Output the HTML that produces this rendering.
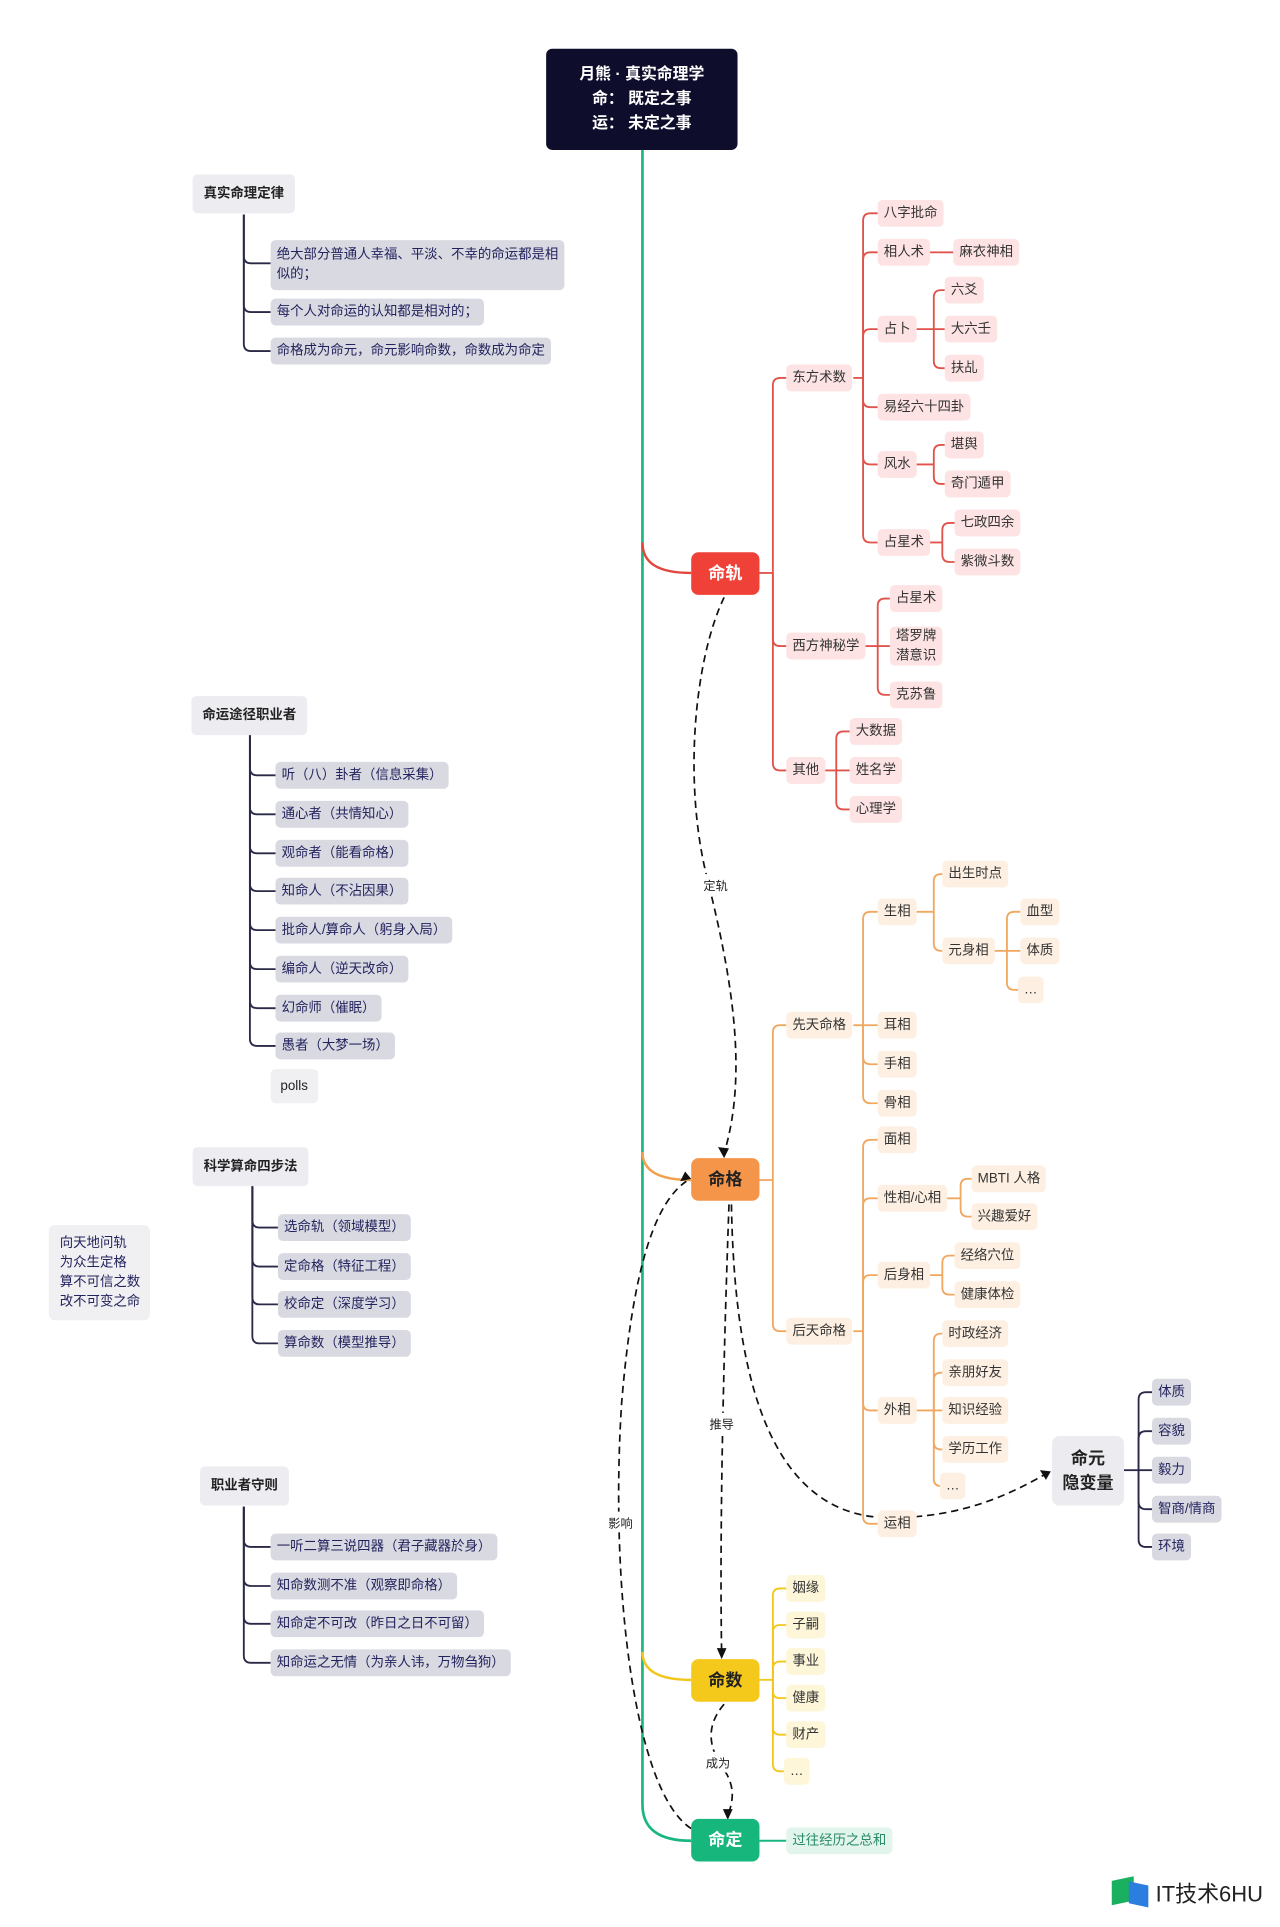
<!DOCTYPE html>
<html><head><meta charset="utf-8">
<style>
html,body{margin:0;padding:0;background:#fff;}
body{width:1280px;height:1927px;overflow:hidden;position:relative;}
#w{position:absolute;left:0;top:0;width:1050px;height:1581px;transform:scale(1.21905);transform-origin:0 0;font-family:"Liberation Sans","Noto Sans CJK SC",sans-serif;}
svg{position:absolute;left:0;top:0;}
.n{position:absolute;height:22px;line-height:22px;padding:0 5px;font-size:11px;border-radius:4px;white-space:nowrap;color:#333;}
.r{background:#fde3e3;}
.o{background:#fdf0e2;}
.y{background:#fdf6d8;}
.g{background:#d9d9e1;color:#23235e;}
.t{background:#ededf1;color:#222;font-weight:bold;height:32px;line-height:32px;padding:0 9px;}
.m{position:absolute;width:56px;height:35px;line-height:35px;text-align:center;border-radius:6px;font-weight:bold;font-size:14px;color:#fff;}
.lbl{position:absolute;font-size:10px;color:#222;background:#fff;padding:1px 0;}
</style></head><body><div id="w">
<svg width="1050" height="1581" viewBox="0 0 1050 1581" id="s">
<g fill="none" stroke-width="1.6">
<path d="M527 123 V1480 C527 1500 540 1510 567 1510" stroke="#19b77f" stroke-width="2.2"/>
<path d="M527 445 C527 462 540 470 567 470" stroke="#e0483e" stroke-width="2"/>
<path d="M527 945 C527 960 540 968 567 968" stroke="#f0a050" stroke-width="2"/>
<path d="M527 1355 C527 1370 540 1378 567 1378" stroke="#f3c61c" stroke-width="2"/>
<path d="M623 1510 H645" stroke="#19b77f"/>
</g>
<g id="br" fill="none" stroke-width="1.5"></g>
<g fill="none" stroke="#111" stroke-width="1.4" stroke-dasharray="6,4">
<path d="M594 490 C570 540 560 640 580 720 C600 800 614 880 594 946"/>
<path d="M598 988 C594 1100 590 1250 592 1358"/>
<path d="M567 1500 C520 1470 500 1300 510 1150 C520 1030 540 985 563 969"/>
<path d="M594 1398 C575 1420 585 1440 596 1455 C604 1470 600 1480 597 1490"/>
<path d="M600 988 C602 1100 620 1245 730 1245 C790 1245 830 1225 858 1209"/>
</g>
<g fill="#111">
<path d="M594 950 l-5 -9 l9 1 z"/>
<path d="M592 1361 l-4 -9 l8 0 z"/>
<path d="M567 967 l-9 2 l4 -8 z"/>
<path d="M597 1493 l-4 -9 l8 0 z"/>
<path d="M862 1207 l-9 -1 l5 8 z"/>
</g>
</svg>
<script>
(function(){var g=document.getElementById('br'),h='';
function br(c,pr,py,bx,cx,ys){h+='<path stroke="'+c+'" d="M'+pr+' '+py+' H'+bx+'"/>';ys.forEach(function(y){var d;if(Math.abs(y-py)<1)d='M'+bx+' '+py+' H'+cx;else{var s=y>py?1:-1;d='M'+bx+' '+py+' V'+(y-s*6)+' Q'+bx+' '+y+' '+(bx+6)+' '+y+' H'+cx;}h+='<path stroke="'+c+'" d="'+d+'"/>';});}
var R='#e0524a',O='#f0a860',Y='#f3c61c',N='#2a2a48';
br(R,623,470,634,645,[310,530,632]);
br(R,700,310,708,720,[175,207,270,334,381,445]);
br(R,762,207,770,782,[207]);
br(R,750,270,766,775,[238,270,302]);
br(R,750,381,766,775,[365,397]);
br(R,762,445,773,783,[429,461]);
br(R,708,530,720,730,[491,530,570]);
br(R,675,632,686,697,[600,632,664]);
br(O,623,968,634,645,[841,1092]);
br(O,700,841,708,720,[748,841,873,905]);
br(O,750,748,766,773,[717,780]);
br(O,815,780,826,837,[748,780,812]);
br(O,700,1092,708,720,[935,983,1046,1157,1250]);
br(O,775,983,788,797,[967,998]);
br(O,762,1046,773,783,[1030,1062]);
br(O,750,1157,766,773,[1094,1126,1157,1189,1219]);
br(Y,623,1378,634,645,[1303,1333,1363,1393,1423,1453]);
br(N,922,1206,934,945,[1142,1174,1206,1238,1269]);
br(N,200,176,200,222,[216,256,288]);
br(N,205,602,205,226,[636,668,700,731,763,795,827,858]);
br(N,207,973,207,228,[1007,1039,1070,1102]);
br(N,200,1236,200,222,[1269,1301,1332,1364]);
g.innerHTML=h;})();
</script>

<div style="position:absolute;left:448px;top:40px;width:157px;height:83px;background:#0e0e2c;border-radius:5px;color:#fff;font-weight:bold;font-size:13px;line-height:20px;text-align:center;padding-top:11px;box-sizing:border-box;">月熊 · 真实命理学<br>命：&nbsp;既定之事<br>运：&nbsp;未定之事</div>

<div class="m" style="left:567px;top:453px;background:#ef4138;">命轨</div>
<div class="m" style="left:567px;top:950px;background:#f4954a;color:#222;">命格</div>
<div class="m" style="left:567px;top:1361px;background:#f5c81c;color:#222;">命数</div>
<div class="m" style="left:567px;top:1492px;background:#17b67c;color:#fff;">命定</div>

<div class="lbl" style="left:577px;top:717px;">定轨</div>
<div class="lbl" style="left:582px;top:1159px;">推导</div>
<div class="lbl" style="left:499px;top:1240px;">影响</div>
<div class="lbl" style="left:579px;top:1437px;">成为</div>

<div class="n r" style="left:645px;top:299px;">东方术数</div>
<div class="n r" style="left:645px;top:519px;">西方神秘学</div>
<div class="n r" style="left:645px;top:621px;">其他</div>
<div class="n r" style="left:720px;top:164px;">八字批命</div>
<div class="n r" style="left:720px;top:196px;">相人术</div>
<div class="n r" style="left:782px;top:196px;">麻衣神相</div>
<div class="n r" style="left:720px;top:259px;">占卜</div>
<div class="n r" style="left:775px;top:227px;">六爻</div>
<div class="n r" style="left:775px;top:259px;">大六壬</div>
<div class="n r" style="left:775px;top:291px;">扶乩</div>
<div class="n r" style="left:720px;top:323px;">易经六十四卦</div>
<div class="n r" style="left:720px;top:370px;">风水</div>
<div class="n r" style="left:775px;top:354px;">堪舆</div>
<div class="n r" style="left:775px;top:386px;">奇门遁甲</div>
<div class="n r" style="left:720px;top:434px;">占星术</div>
<div class="n r" style="left:783px;top:418px;">七政四余</div>
<div class="n r" style="left:783px;top:450px;">紫微斗数</div>
<div class="n r" style="left:730px;top:480px;">占星术</div>
<div class="n r" style="left:730px;top:514px;height:32px;line-height:16px;">塔罗牌<br>潜意识</div>
<div class="n r" style="left:730px;top:559px;">克苏鲁</div>
<div class="n r" style="left:697px;top:589px;">大数据</div>
<div class="n r" style="left:697px;top:621px;">姓名学</div>
<div class="n r" style="left:697px;top:653px;">心理学</div>

<div class="n o" style="left:645px;top:830px;">先天命格</div>
<div class="n o" style="left:645px;top:1081px;">后天命格</div>
<div class="n o" style="left:720px;top:737px;">生相</div>
<div class="n o" style="left:773px;top:706px;">出生时点</div>
<div class="n o" style="left:773px;top:769px;">元身相</div>
<div class="n o" style="left:837px;top:737px;">血型</div>
<div class="n o" style="left:837px;top:769px;">体质</div>
<div class="n o" style="left:835px;top:801px;">…</div>
<div class="n o" style="left:720px;top:830px;">耳相</div>
<div class="n o" style="left:720px;top:862px;">手相</div>
<div class="n o" style="left:720px;top:894px;">骨相</div>
<div class="n o" style="left:720px;top:924px;">面相</div>
<div class="n o" style="left:720px;top:972px;">性相/心相</div>
<div class="n o" style="left:797px;top:956px;">MBTI 人格</div>
<div class="n o" style="left:797px;top:987px;">兴趣爱好</div>
<div class="n o" style="left:720px;top:1035px;">后身相</div>
<div class="n o" style="left:783px;top:1019px;">经络穴位</div>
<div class="n o" style="left:783px;top:1051px;">健康体检</div>
<div class="n o" style="left:720px;top:1146px;">外相</div>
<div class="n o" style="left:773px;top:1083px;">时政经济</div>
<div class="n o" style="left:773px;top:1115px;">亲朋好友</div>
<div class="n o" style="left:773px;top:1146px;">知识经验</div>
<div class="n o" style="left:773px;top:1178px;">学历工作</div>
<div class="n o" style="left:771px;top:1208px;">…</div>
<div class="n o" style="left:720px;top:1239px;">运相</div>

<div style="position:absolute;left:863px;top:1178px;width:59px;height:57px;background:#ececf0;border-radius:6px;font-weight:bold;font-size:14px;line-height:20px;text-align:center;padding-top:8px;box-sizing:border-box;color:#222;">命元<br>隐变量</div>
<div class="n g" style="left:945px;top:1131px;">体质</div>
<div class="n g" style="left:945px;top:1163px;">容貌</div>
<div class="n g" style="left:945px;top:1195px;">毅力</div>
<div class="n g" style="left:945px;top:1227px;">智商/情商</div>
<div class="n g" style="left:945px;top:1258px;">环境</div>

<div class="n y" style="left:645px;top:1292px;">姻缘</div>
<div class="n y" style="left:645px;top:1322px;">子嗣</div>
<div class="n y" style="left:645px;top:1352px;">事业</div>
<div class="n y" style="left:645px;top:1382px;">健康</div>
<div class="n y" style="left:645px;top:1412px;">财产</div>
<div class="n y" style="left:643px;top:1442px;">…</div>
<div class="n" style="left:645px;top:1499px;background:#e1f5ec;color:#2a8a6a;">过往经历之总和</div>

<div class="n t" style="left:158px;top:143px;">真实命理定律</div>
<div class="n g" style="left:222px;top:197px;height:41px;line-height:16px;padding-top:4px;box-sizing:border-box;width:241px;white-space:normal;">绝大部分普通人幸福、平淡、不幸的命运都是相似的；</div>
<div class="n g" style="left:222px;top:245px;">每个人对命运的认知都是相对的；</div>
<div class="n g" style="left:222px;top:277px;">命格成为命元，命元影响命数，命数成为命定</div>

<div class="n t" style="left:157px;top:571px;">命运途径职业者</div>
<div class="n g" style="left:226px;top:625px;">听（八）卦者（信息采集）</div>
<div class="n g" style="left:226px;top:657px;">通心者（共情知心）</div>
<div class="n g" style="left:226px;top:689px;">观命者（能看命格）</div>
<div class="n g" style="left:226px;top:720px;">知命人（不沾因果）</div>
<div class="n g" style="left:226px;top:752px;">批命人/算命人（躬身入局）</div>
<div class="n g" style="left:226px;top:784px;">编命人（逆天改命）</div>
<div class="n g" style="left:226px;top:816px;">幻命师（催眠）</div>
<div class="n g" style="left:226px;top:847px;">愚者（大梦一场）</div>
<div class="n" style="left:222px;top:877px;height:28px;line-height:28px;background:#f0f0f3;color:#222;padding:0 8px;">polls</div>

<div class="n t" style="left:158px;top:941px;">科学算命四步法</div>
<div class="n g" style="left:228px;top:996px;">选命轨（领域模型）</div>
<div class="n g" style="left:228px;top:1028px;">定命格（特征工程）</div>
<div class="n g" style="left:228px;top:1059px;">校命定（深度学习）</div>
<div class="n g" style="left:228px;top:1091px;">算命数（模型推导）</div>

<div style="position:absolute;left:40px;top:1005px;width:83px;height:78px;background:#f0f0f3;border-radius:5px;font-size:11px;line-height:16px;color:#23235e;padding:7px 0 0 9px;box-sizing:border-box;">向天地问轨<br>为众生定格<br>算不可信之数<br>改不可变之命</div>

<div class="n t" style="left:164px;top:1203px;">职业者守则</div>
<div class="n g" style="left:222px;top:1258px;">一听二算三说四器（君子藏器於身）</div>
<div class="n g" style="left:222px;top:1290px;">知命数测不准（观察即命格）</div>
<div class="n g" style="left:222px;top:1321px;">知命定不可改（昨日之日不可留）</div>
<div class="n g" style="left:222px;top:1353px;">知命运之无情（为亲人讳，万物刍狗）</div>

<div style="position:absolute;left:912px;top:1541px;width:18px;height:20px;background:#19b060;transform:skewY(-12deg);"></div>
<div style="position:absolute;left:926px;top:1545px;width:16px;height:18px;background:#2b7de0;transform:skewY(12deg);"></div>
<div style="position:absolute;left:948px;top:1540px;font-size:18px;color:#222;">IT技术6HU</div>
</div></body></html>
